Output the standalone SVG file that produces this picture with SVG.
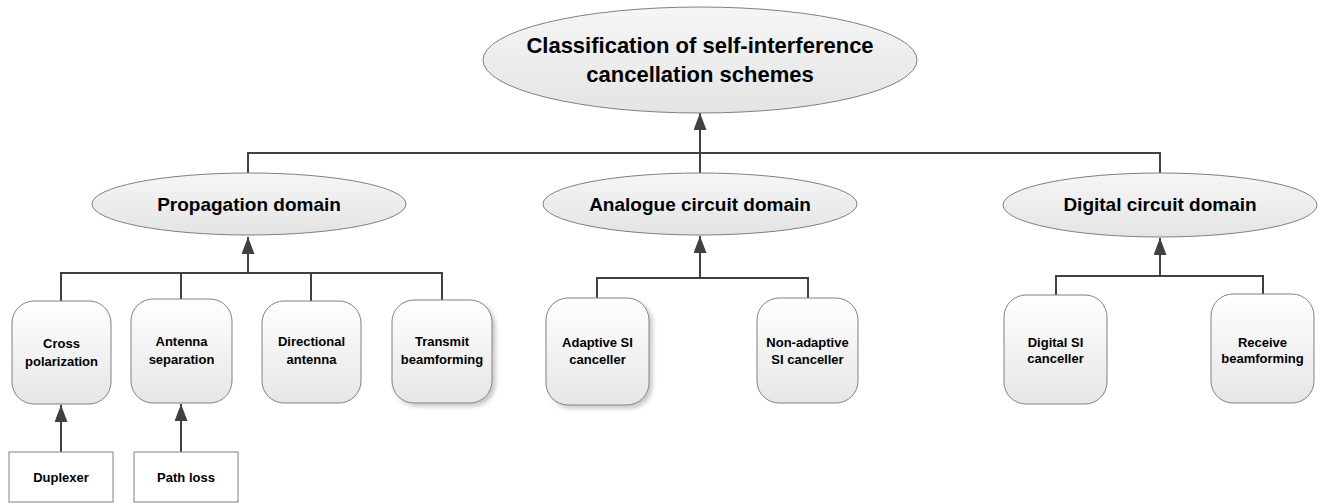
<svg xmlns="http://www.w3.org/2000/svg" width="1324" height="504" viewBox="0 0 1324 504">
<defs>
<linearGradient id="gBox" x1="0" y1="0" x2="0" y2="1">
<stop offset="0" stop-color="#ffffff"/>
<stop offset="1" stop-color="#e6e6e6"/>
</linearGradient>
<linearGradient id="gEll" x1="0" y1="0" x2="0" y2="1">
<stop offset="0" stop-color="#f6f6f6"/>
<stop offset="1" stop-color="#e4e4e4"/>
</linearGradient>
<filter id="shadow" x="-20%" y="-20%" width="150%" height="150%">
<feDropShadow dx="3" dy="3" stdDeviation="2" flood-color="#000" flood-opacity="0.22"/>
</filter>
<marker id="arr" markerUnits="userSpaceOnUse" markerWidth="17" markerHeight="13" refX="17" refY="6.5" orient="auto">
<path d="M0,0 L17,6.5 L0,13 z" fill="#404040"/>
</marker>
</defs>
<style>
.box{fill:url(#gBox);stroke:#808080;stroke-width:1}
.ell{fill:url(#gEll);stroke:#808080;stroke-width:1}
.sq{fill:#ffffff;stroke:#808080;stroke-width:1}
text{font-family:"Liberation Sans",Arial,sans-serif;font-weight:bold;fill:#000;text-anchor:middle}
.t1{font-size:22px}
.t2{font-size:19px}
.t3{font-size:13px}
.con{fill:none;stroke:#404040;stroke-width:2}
</style>
<g id="connectors">
<path class="con" d="M248,173 V153 H1160 V173"/>
<path class="con" d="M700,173 V113" marker-end="url(#arr)"/>
<path class="con" d="M61,301 V273 H442 V300"/>
<path class="con" d="M181,273 V299"/>
<path class="con" d="M311,273 V301"/>
<path class="con" d="M248,273 V237" marker-end="url(#arr)"/>
<path class="con" d="M61,452 V405" marker-end="url(#arr)"/>
<path class="con" d="M181,452 V404" marker-end="url(#arr)"/>
<path class="con" d="M597,298 V278 H808 V298"/>
<path class="con" d="M700,278 V236" marker-end="url(#arr)"/>
<path class="con" d="M1056,295 V276 H1263 V294"/>
<path class="con" d="M1160,276 V238" marker-end="url(#arr)"/>
</g>
<g id="root">
<ellipse class="ell" cx="700" cy="60" rx="217" ry="53"/>
<text class="t1" x="700" y="53">Classification of self-interference</text>
<text class="t1" x="700" y="82">cancellation schemes</text>
</g>
<g id="propagation">
<ellipse class="ell" cx="249" cy="204" rx="157" ry="31"/>
<text class="t2" x="249" y="211">Propagation domain</text>
</g>
<g id="analogue">
<ellipse class="ell" cx="700" cy="204" rx="157" ry="31"/>
<text class="t2" x="700" y="211">Analogue circuit domain</text>
</g>
<g id="digital">
<ellipse class="ell" cx="1160" cy="205" rx="157" ry="32"/>
<text class="t2" x="1160" y="211">Digital circuit domain</text>
</g>
<g id="cross">
<rect class="box" x="12" y="301" width="99" height="103" rx="22"/>
<text class="t3" x="61.5" y="348">Cross</text>
<text class="t3" x="61.5" y="366">polarization</text>
</g>
<g id="antenna-sep">
<rect class="box" x="131" y="299" width="101" height="104" rx="22"/>
<text class="t3" x="181.5" y="346">Antenna</text>
<text class="t3" x="181.5" y="364">separation</text>
</g>
<g id="directional">
<rect class="box" x="262" y="301" width="99" height="102" rx="22"/>
<text class="t3" x="311.5" y="346">Directional</text>
<text class="t3" x="311.5" y="364">antenna</text>
</g>
<g id="transmit">
<rect class="box" x="392" y="300" width="100" height="103" rx="22" filter="url(#shadow)"/>
<text class="t3" x="442" y="346">Transmit</text>
<text class="t3" x="442" y="364">beamforming</text>
</g>
<g id="duplexer">
<rect class="sq" x="9" y="452" width="104" height="50"/>
<text class="t3" x="61" y="482">Duplexer</text>
</g>
<g id="pathloss">
<rect class="sq" x="134" y="452" width="104" height="50"/>
<text class="t3" x="186" y="482">Path loss</text>
</g>
<g id="adaptive">
<rect class="box" x="546" y="298" width="103" height="107" rx="22" filter="url(#shadow)"/>
<text class="t3" x="597.5" y="347">Adaptive SI</text>
<text class="t3" x="597.5" y="364">canceller</text>
</g>
<g id="nonadaptive">
<rect class="box" x="757" y="298" width="101" height="105" rx="22"/>
<text class="t3" x="807.5" y="347">Non-adaptive</text>
<text class="t3" x="807.5" y="364">SI canceller</text>
</g>
<g id="digitalsi">
<rect class="box" x="1004" y="295" width="103" height="109" rx="22"/>
<text class="t3" x="1055.5" y="347">Digital SI</text>
<text class="t3" x="1055.5" y="363">canceller</text>
</g>
<g id="receive">
<rect class="box" x="1211" y="294" width="103" height="109" rx="22"/>
<text class="t3" x="1262.5" y="347">Receive</text>
<text class="t3" x="1262.5" y="363">beamforming</text>
</g>
</svg>
